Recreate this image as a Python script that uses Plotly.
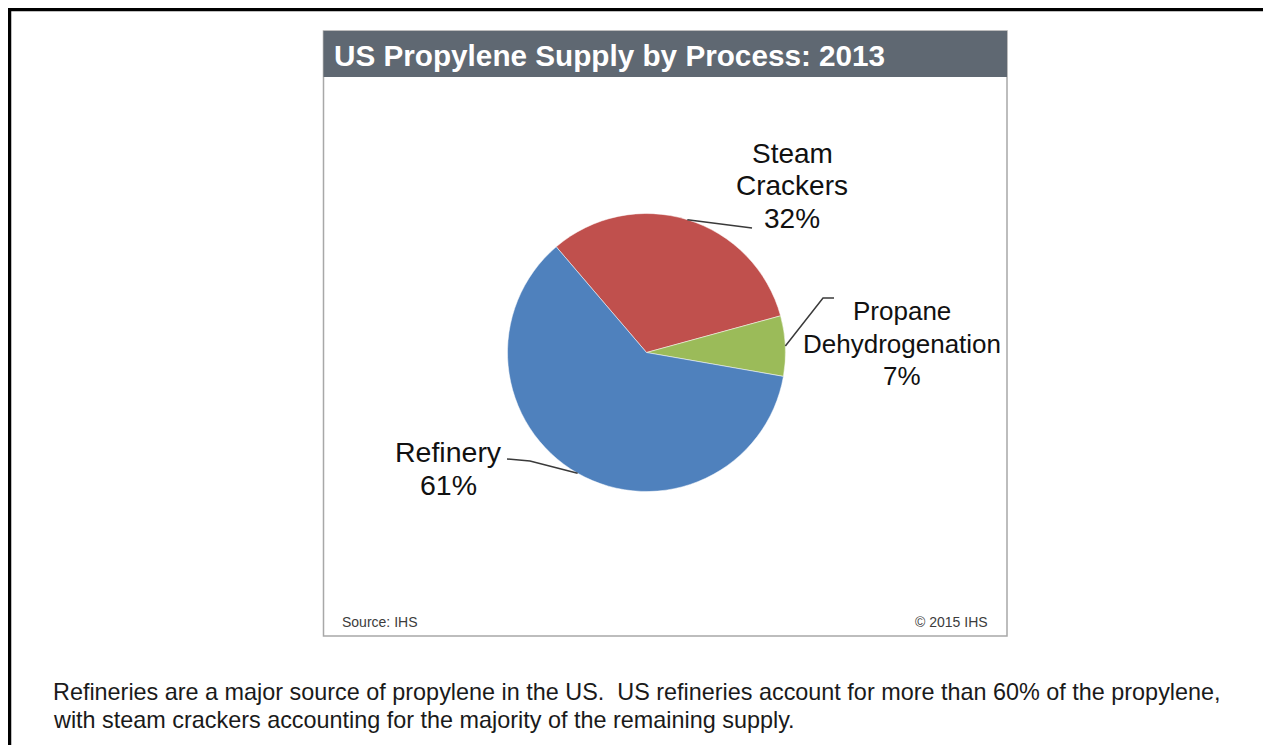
import math
import plotly.graph_objects as go

# ---- data ----
processes = ["Steam Crackers", "Propane Dehydrogenation", "Refinery"]
label_words = [["Steam", "Crackers"], ["Propane", "Dehydrogenation"], ["Refinery"]]
shares = [32, 7, 61]
colors = ["#C0504D", "#9BBB59", "#4F81BD"]
title_text = "US Propylene Supply by Process: 2013"
source_text = "Source: IHS"
copyright_text = "© 2015 IHS"
caption_lines = [
    "Refineries are a major source of propylene in the US.  US refineries account for more than 60% of the propylene,",
    "with steam crackers accounting for the majority of the remaining supply.",
]

# ---- geometry (page pixels; the page body has an 8px margin) ----
OFF = 8
W, H = 1271 - OFF, 745 - OFF
CX, CY, R = 646.5, 352.5, 139.0
ROT = -40.5
FONT = "Liberation Sans, Arial, sans-serif"


def px(x):
    return (x - OFF) / W


def py(y):
    return 1 - (y - OFF) / H


fig = go.Figure()
fig.add_trace(go.Pie(
    labels=processes,
    values=shares,
    sort=False,
    direction="clockwise",
    rotation=ROT,
    marker=dict(colors=colors, line=dict(color="white", width=0.5)),
    textinfo="none",
    hoverinfo="label+percent",
    showlegend=False,
    domain=dict(x=[px(CX - R), px(CX + R)], y=[py(CY + R), py(CY - R)]),
))

shapes = []
# outer black frame: left and top edges, then right edge (bottom edge off-page)
shapes.append(dict(type="path", xref="paper", yref="paper",
                   path="M {:.5f},{:.5f} L {:.5f},{:.5f} L {:.5f},{:.5f}".format(
                       px(8.5), py(800), px(8.5), py(8.5), px(1275), py(8.5)),
                   line=dict(color="black", width=5.5), layer="below"))
shapes.append(dict(type="line", xref="paper", yref="paper",
                   x0=px(1271.5), x1=px(1271.5), y0=py(6), y1=py(800),
                   line=dict(color="black", width=9), layer="below"))
# chart panel
shapes.append(dict(type="rect", xref="paper", yref="paper",
                   x0=px(323.5), x1=px(1007), y0=py(636), y1=py(31),
                   line=dict(color="#A8A8A8", width=1.5), fillcolor="white", layer="below"))
# title bar
shapes.append(dict(type="rect", xref="paper", yref="paper",
                   x0=px(323.5), x1=px(1007), y0=py(77), y1=py(31),
                   line=dict(width=0), fillcolor="#5F6872", layer="below"))

# mid-angle anchors on the pie edge, computed from the data
total = sum(shares)
start = ROT
anchors = []
for v in shares:
    span = 360.0 * v / total
    mid = math.radians(start + span / 2)
    anchors.append((CX + R * math.sin(mid), CY - R * math.cos(mid)))
    start += span

# leader line bend points, label line positions and sizes (layout, page pixels)
leader_paths = [
    [(752, 228)],
    [(823, 298), (834, 298)],
    [(530, 461), (507, 459)],
]
label_x = [792, 902, 448]
label_y0 = [153, 311, 452]
label_step = [32.5, 32.5, 32.5]
label_size = [28, 26, 28.5]

for (ax0, ay0), pts in zip(anchors, leader_paths):
    path = "M {:.4f},{:.4f}".format(px(ax0), py(ay0))
    for (x, y) in pts:
        path += " L {:.4f},{:.4f}".format(px(x), py(y))
    shapes.append(dict(type="path", xref="paper", yref="paper", path=path,
                       line=dict(color="#3A3A3A", width=1.5)))

annotations = []
for words, v, lx, ly, st, fs in zip(label_words, shares, label_x, label_y0, label_step, label_size):
    lines = words + ["{}%".format(v)]
    for i, t in enumerate(lines):
        annotations.append(dict(
            text=t, x=px(lx), y=py(ly + st * i),
            xref="paper", yref="paper", showarrow=False,
            xanchor="center", yanchor="middle", align="center",
            font=dict(family=FONT, size=fs, color="#111111")))

annotations.append(dict(
    text="<b>{}</b>".format(title_text), x=px(332), y=py(55.5),
    xref="paper", yref="paper", showarrow=False,
    xanchor="left", yanchor="middle",
    font=dict(family=FONT, size=29.7, color="white")))
annotations.append(dict(
    text=source_text, x=px(340), y=py(622),
    xref="paper", yref="paper", showarrow=False,
    xanchor="left", yanchor="middle",
    font=dict(family=FONT, size=14, color="#3C3C3C")))
annotations.append(dict(
    text=copyright_text, x=px(990), y=py(622),
    xref="paper", yref="paper", showarrow=False,
    xanchor="right", yanchor="middle",
    font=dict(family=FONT, size=14, color="#3C3C3C")))
for i, line in enumerate(caption_lines):
    annotations.append(dict(
        text=line, x=px(51), y=py(692 + 28 * i),
        xref="paper", yref="paper", showarrow=False,
        xanchor="left", yanchor="middle",
        font=dict(family=FONT, size=23.4, color="#1A1A1A")))

fig.update_layout(
    width=W, height=H,
    margin=dict(l=0, r=0, t=0, b=0),
    paper_bgcolor="white", plot_bgcolor="white",
    shapes=shapes, annotations=annotations,
    showlegend=False,
)

fig.write_html("out.html", config={"displayModeBar": False})
